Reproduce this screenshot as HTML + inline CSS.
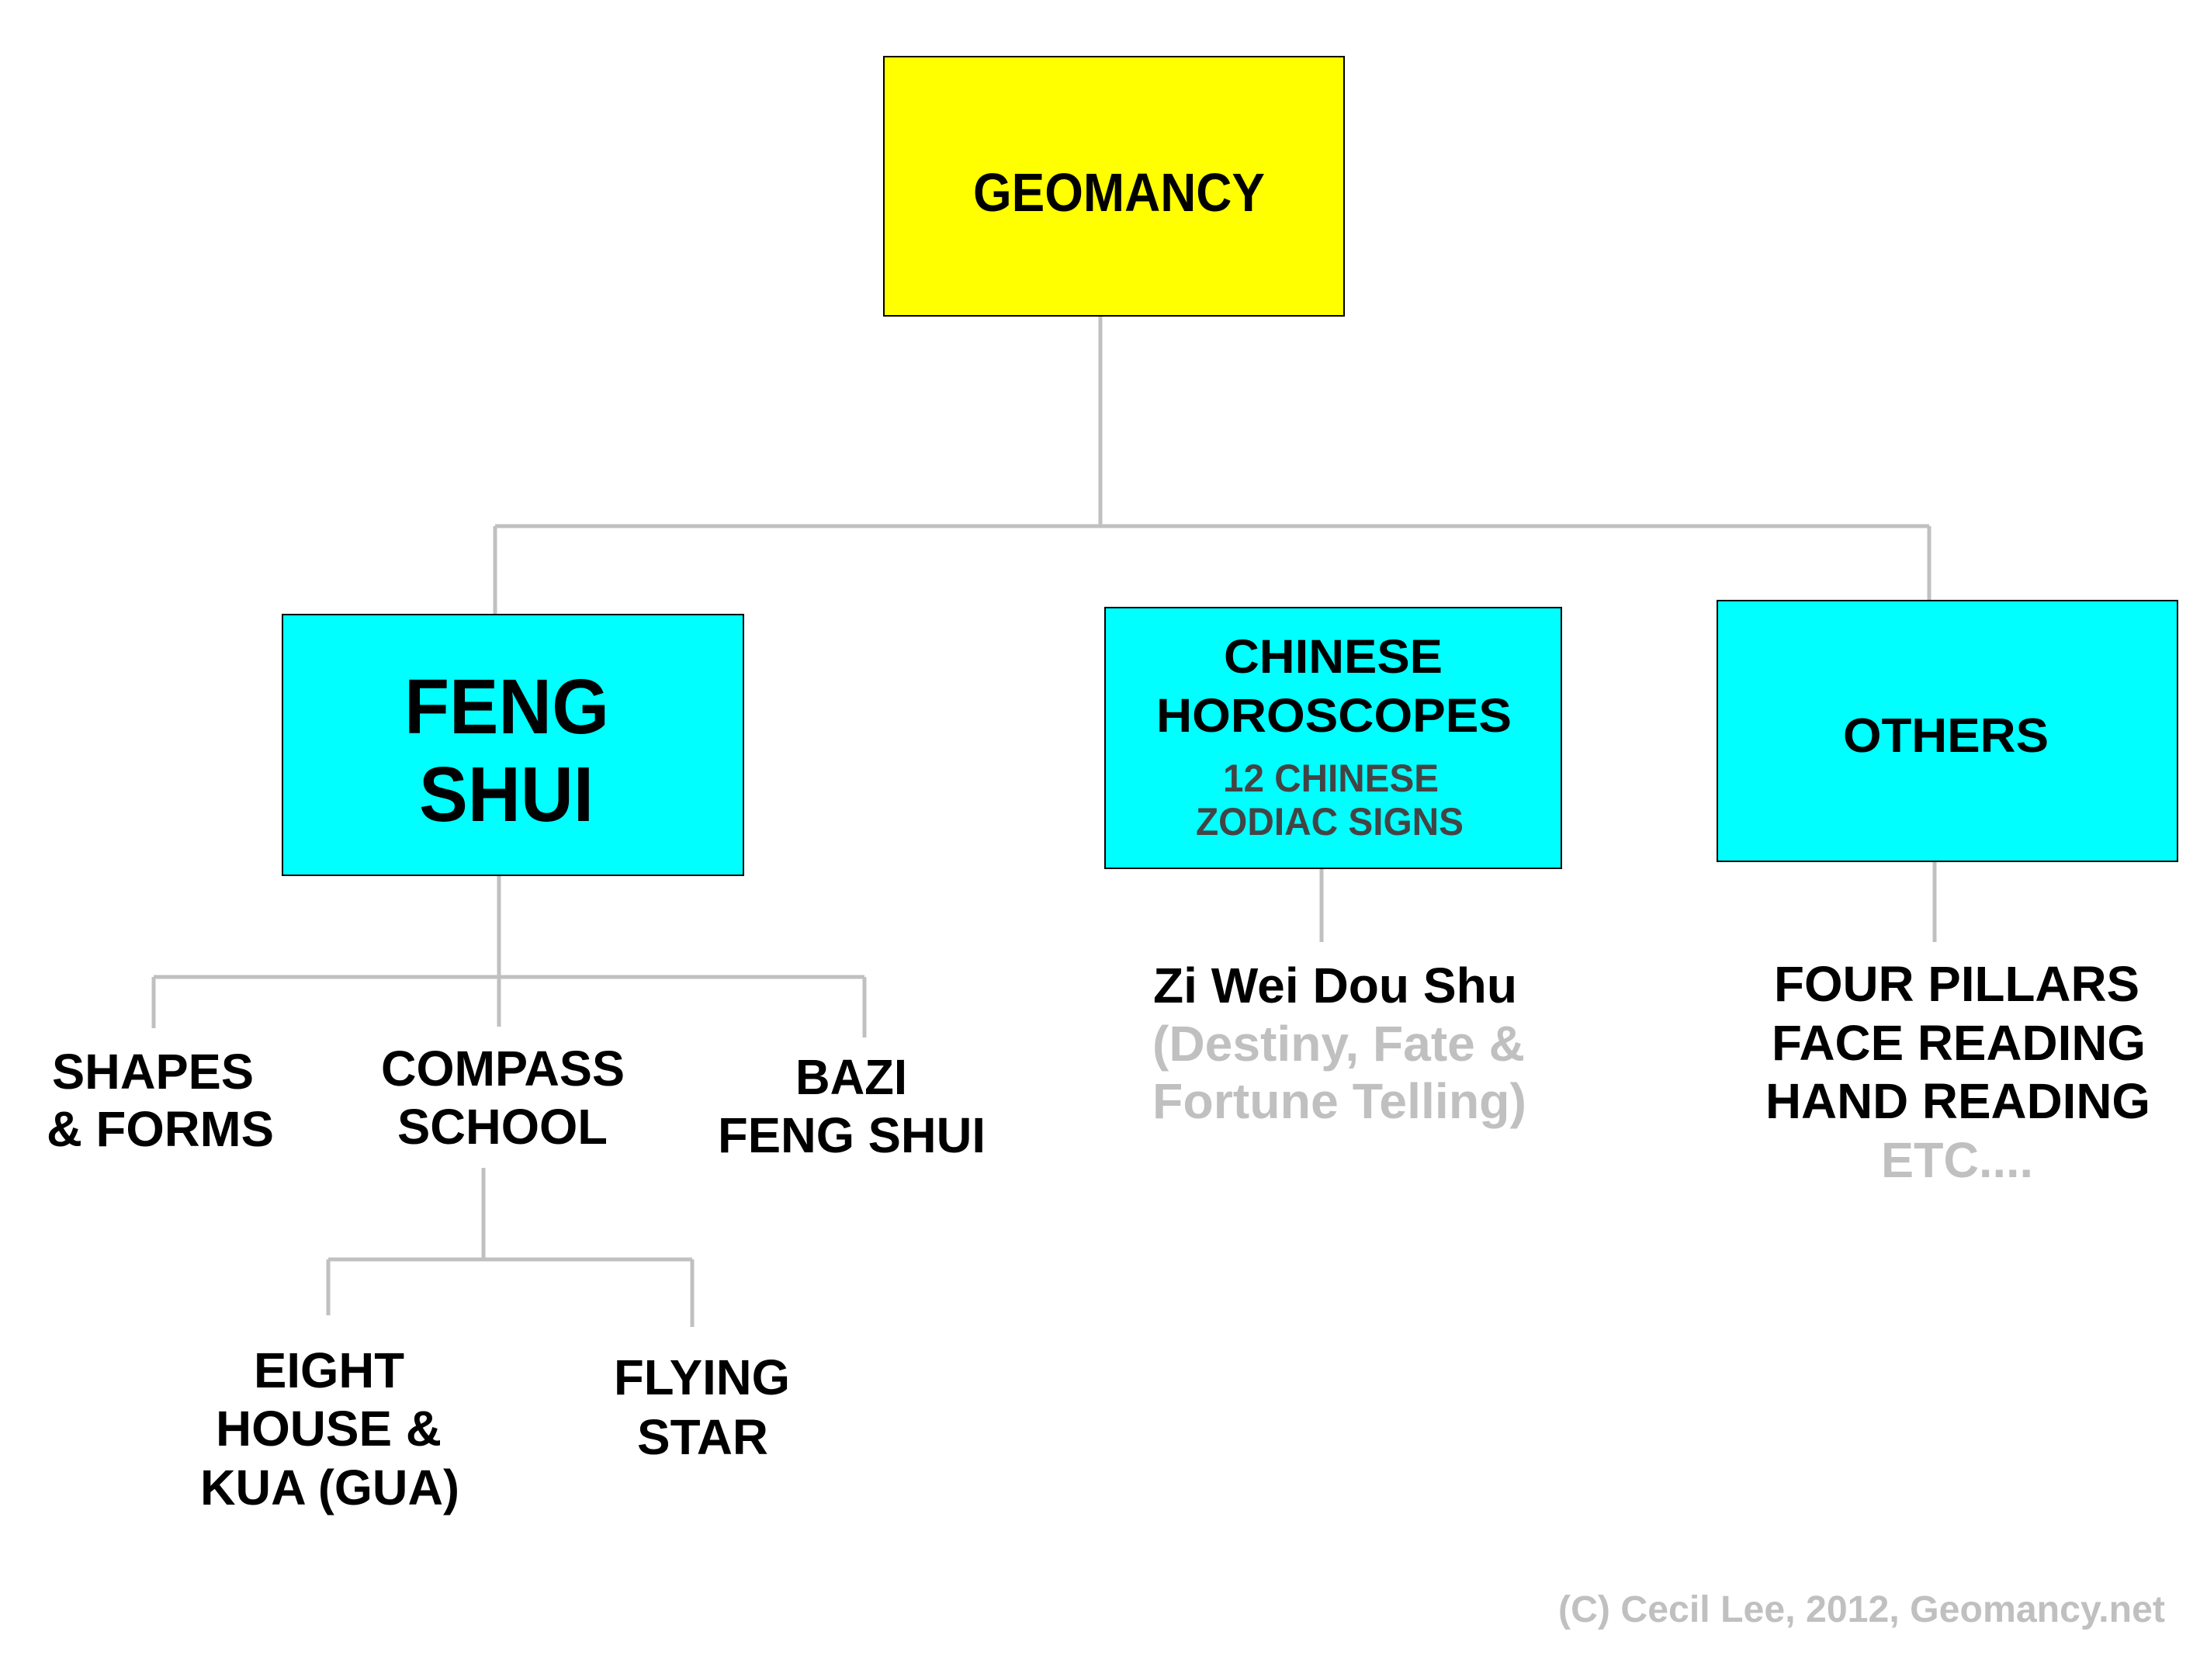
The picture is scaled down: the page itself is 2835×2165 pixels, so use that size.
<!DOCTYPE html>
<html><head><meta charset="utf-8"><style>html,body{margin:0;padding:0;background:#fff}svg{display:block}</style></head>
<body>
<svg width="2835" height="2165" viewBox="0 0 2835 2165" xmlns="http://www.w3.org/2000/svg" font-family="Liberation Sans, Arial, sans-serif" font-weight="bold">
<rect width="2835" height="2165" fill="#fff"/>
<g stroke="#c0c0c0" stroke-width="5" fill="none">
<line x1="1418" y1="407" x2="1418" y2="678"/>
<line x1="638" y1="678" x2="2486" y2="678"/>
<line x1="638" y1="678" x2="638" y2="792"/>
<line x1="2486" y1="678" x2="2486" y2="774"/>
<line x1="643" y1="1128" x2="643" y2="1259"/>
<line x1="198" y1="1259" x2="1114" y2="1259"/>
<line x1="198" y1="1259" x2="198" y2="1325"/>
<line x1="643" y1="1259" x2="643" y2="1323"/>
<line x1="1114" y1="1259" x2="1114" y2="1337"/>
<line x1="623" y1="1505" x2="623" y2="1623"/>
<line x1="423" y1="1623" x2="892" y2="1623"/>
<line x1="423" y1="1623" x2="423" y2="1695"/>
<line x1="892" y1="1623" x2="892" y2="1710"/>
<line x1="1703" y1="1119" x2="1703" y2="1214"/>
<line x1="2493" y1="1110" x2="2493" y2="1214"/>
</g>
<rect x="1139" y="73" width="593" height="334" fill="#ffff00" stroke="#000" stroke-width="2"/>
<rect x="364" y="792" width="594" height="336" fill="#00ffff" stroke="#000" stroke-width="2"/>
<rect x="1424" y="783" width="588" height="336" fill="#00ffff" stroke="#000" stroke-width="2"/>
<rect x="2213" y="774" width="593" height="336" fill="#00ffff" stroke="#000" stroke-width="2"/>
<g fill="#000" lengthAdjust="spacingAndGlyphs">
<text x="1254" y="272" font-size="70" textLength="376" lengthAdjust="spacingAndGlyphs">GEOMANCY</text>
<text x="521" y="945" font-size="100" textLength="264" lengthAdjust="spacingAndGlyphs">FENG</text>
<text x="540" y="1058" font-size="100" textLength="225" lengthAdjust="spacingAndGlyphs">SHUI</text>
<text x="1577" y="867" font-size="61" textLength="282" lengthAdjust="spacingAndGlyphs">CHINESE</text>
<text x="1490" y="943" font-size="61" textLength="458" lengthAdjust="spacingAndGlyphs">HOROSCOPES</text>
<text x="1576" y="1020" font-size="50" fill="#444" textLength="278" lengthAdjust="spacingAndGlyphs">12 CHINESE</text>
<text x="1541" y="1076" font-size="50" fill="#444" textLength="345" lengthAdjust="spacingAndGlyphs">ZODIAC SIGNS</text>
<text x="2375" y="969" font-size="62" textLength="265" lengthAdjust="spacingAndGlyphs">OTHERS</text>
<text x="67" y="1403" font-size="64" textLength="260" lengthAdjust="spacingAndGlyphs">SHAPES</text>
<text x="60" y="1477" font-size="64" textLength="293" lengthAdjust="spacingAndGlyphs">&amp; FORMS</text>
<text x="491" y="1399" font-size="64" textLength="314" lengthAdjust="spacingAndGlyphs">COMPASS</text>
<text x="512" y="1474" font-size="64" textLength="271" lengthAdjust="spacingAndGlyphs">SCHOOL</text>
<text x="1025" y="1410" font-size="64" textLength="144" lengthAdjust="spacingAndGlyphs">BAZI</text>
<text x="925" y="1485" font-size="64" textLength="345" lengthAdjust="spacingAndGlyphs">FENG SHUI</text>
<text x="327" y="1788" font-size="64" textLength="194" lengthAdjust="spacingAndGlyphs">EIGHT</text>
<text x="278" y="1863" font-size="64" textLength="291" lengthAdjust="spacingAndGlyphs">HOUSE &amp;</text>
<text x="258" y="1939" font-size="64" textLength="334" lengthAdjust="spacingAndGlyphs">KUA (GUA)</text>
<text x="791" y="1797" font-size="64" textLength="227" lengthAdjust="spacingAndGlyphs">FLYING</text>
<text x="821" y="1874" font-size="64" textLength="169" lengthAdjust="spacingAndGlyphs">STAR</text>
<text x="1486" y="1292" font-size="64" textLength="469" lengthAdjust="spacingAndGlyphs">Zi Wei Dou Shu</text>
<text x="1485" y="1367" font-size="64" fill="#c0c0c0" textLength="480" lengthAdjust="spacingAndGlyphs">(Destiny, Fate &amp;</text>
<text x="1485" y="1441" font-size="64" fill="#c0c0c0" textLength="482" lengthAdjust="spacingAndGlyphs">Fortune Telling)</text>
<text x="2286" y="1290" font-size="64" textLength="471" lengthAdjust="spacingAndGlyphs">FOUR PILLARS</text>
<text x="2283" y="1366" font-size="64" textLength="482" lengthAdjust="spacingAndGlyphs">FACE READING</text>
<text x="2275" y="1441" font-size="64" textLength="496" lengthAdjust="spacingAndGlyphs">HAND READING</text>
<text x="2424" y="1517" font-size="64" fill="#c0c0c0" textLength="196" lengthAdjust="spacingAndGlyphs">ETC....</text>
<text x="2008" y="2090" font-size="48" fill="#c0c0c0" textLength="782" lengthAdjust="spacingAndGlyphs">(C) Cecil Lee, 2012, Geomancy.net</text>
</g>
</svg>
</body></html>
